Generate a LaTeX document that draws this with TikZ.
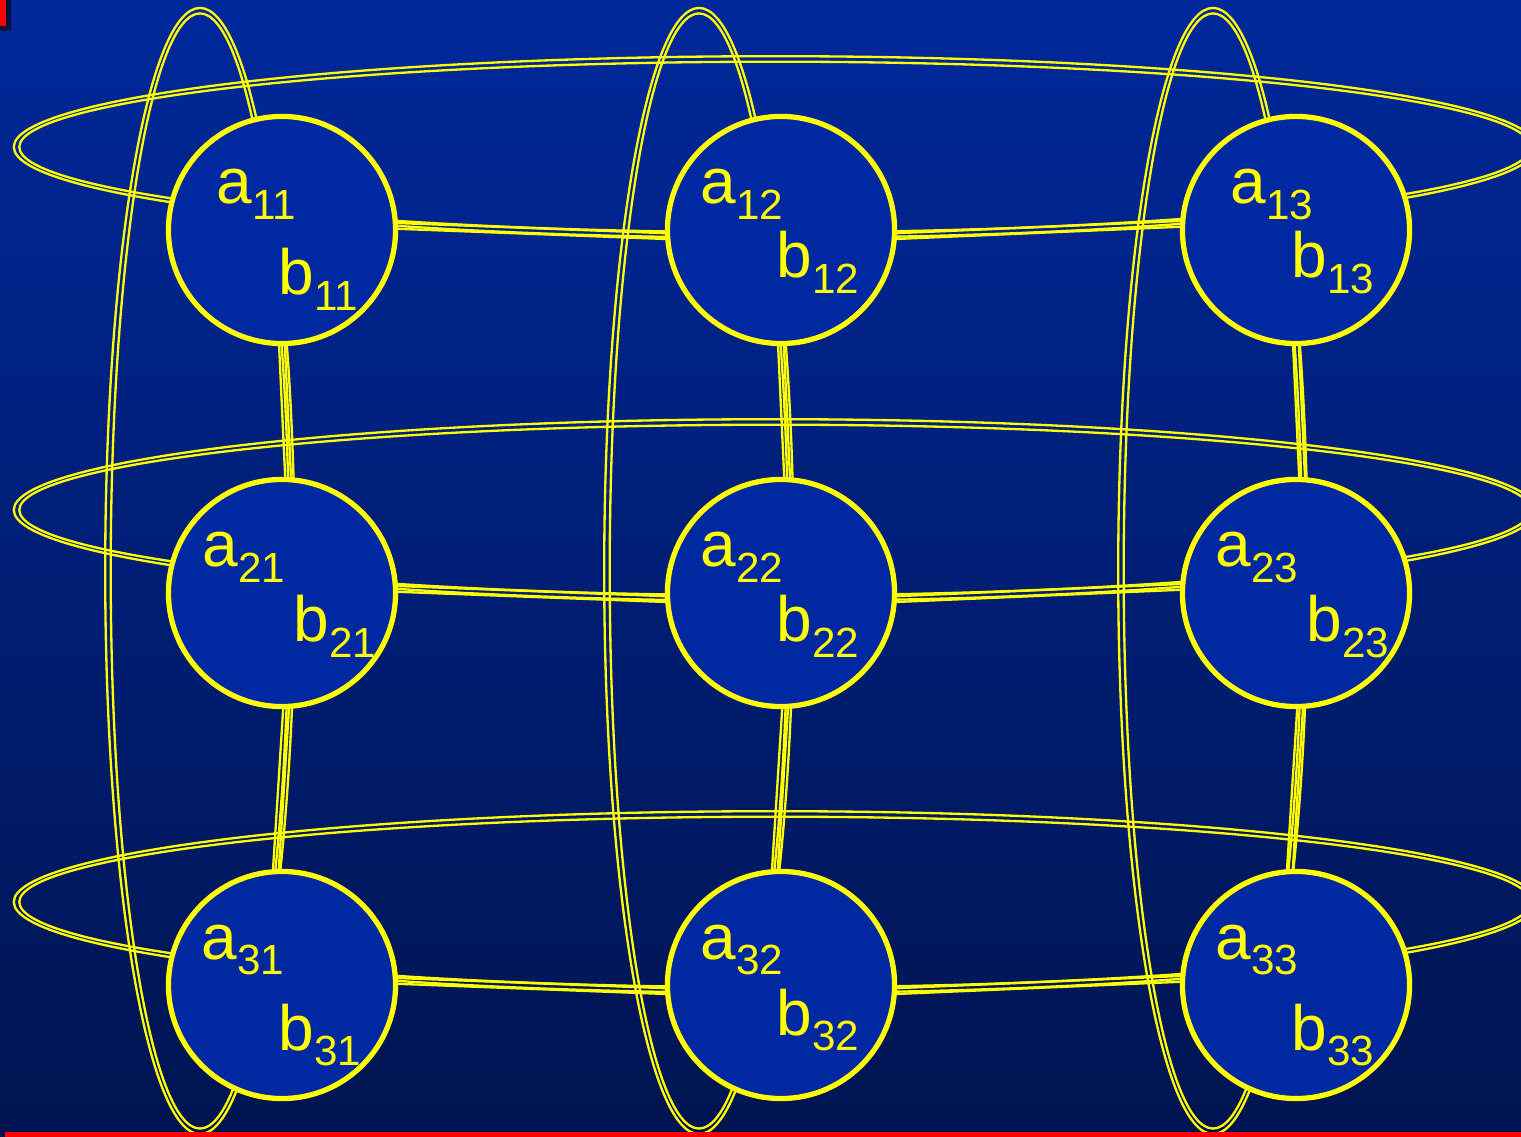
\documentclass[tikz,border=0pt]{standalone}
\usepackage{fontspec}
\setmainfont{Liberation Sans}
\usepackage{tikz}
\usetikzlibrary{backgrounds}
\definecolor{bgtop}{RGB}{0,40,155}
\definecolor{bgbot}{RGB}{0,20,80}
\definecolor{cellfill}{RGB}{0,40,160}
\definecolor{rly}{RGB}{255,255,0}
\definecolor{redline}{RGB}{255,0,0}
\definecolor{shadowc}{RGB}{0,18,60}
\newcommand{\lowidx}[1]{\raisebox{-4.3pt}{\fontsize{12}{13}\selectfont #1}}

\begin{document}
\begin{tikzpicture}[
    x=0.01cm, y=-0.01cm,
    cell/.style={circle, draw=rly, line width=1.5pt, fill=cellfill, minimum size=2.27cm, inner sep=0pt},
    rail/.style={draw=rly, line width=0.66pt},
    lbl/.style={text=rly, inner sep=0pt, anchor=base west, font=\fontsize{18.2}{20}\selectfont}
]
\useasboundingbox (0,0) rectangle (1521,1137);
% cells
\foreach \r/\y in {1/230,2/593,3/985}
  \foreach \c/\x in {1/282,2/781,3/1296}
    \node[cell] (n\r\c) at (\x,\y) {};
% labels
\foreach \r/\c/\ax/\bx/\by in {1/1/-66/-4/65, 1/2/-81/-5/48, 1/3/-66/-5/48,
                               2/1/-80/11/49, 2/2/-81/-5/49, 2/3/-81/10/49,
                               3/1/-81/-4/65, 3/2/-81/-5/50, 3/3/-81/-5/65}{
  \node[lbl] (a\r\c) at ([shift={(\ax,-26)}]n\r\c.center) {a\lowidx{\r\c}};
  \node[lbl] (b\r\c) at ([shift={(\bx,\by)}]n\r\c.center) {b\lowidx{\r\c}};
}
\begin{scope}[on background layer]
  \shade[top color=bgtop, bottom color=bgbot] (0,0) rectangle (1521,1137);
  % row rings
  \foreach \y in {147,510,902}
    \foreach \rx/\ry in {7.6075/0.9075, 7.5525/0.8525}
      \draw[rail] (775,\y) ellipse [x radius=\rx cm, y radius=\ry cm];
  % column rings
  \foreach \x in {200,699,1213}
    \foreach \rx/\ry in {0.9475/5.6275, 0.8925/5.5725}
      \draw[rail] (\x,571) ellipse [x radius=\rx cm, y radius=\ry cm];
  % links
  \foreach \r in {1,2,3}
    \foreach \s in {-0.82pt,0.82pt}{
      \draw[rail] ([yshift=\s]n\r1.2) -- ([yshift=\s]n\r2.183);
      \draw[rail] ([yshift=\s]n\r2.357) -- ([yshift=\s]n\r3.177);
    }
  \foreach \c in {1,2,3}
    \foreach \s in {-0.82pt,0.82pt}{
      \draw[rail] ([xshift=\s]n1\c.270) -- ([xshift=\s]n2\c.87);
      \draw[rail] ([xshift=\s]n2\c.272) -- ([xshift=\s]n3\c.93);
    }
\end{scope}
\fill[shadowc] (0,0) rectangle (11,31);
\fill[redline] (0,0) rectangle (6,26);
\fill[redline] (5,1132) rectangle (1521,1137);
\end{tikzpicture}
\end{document}
